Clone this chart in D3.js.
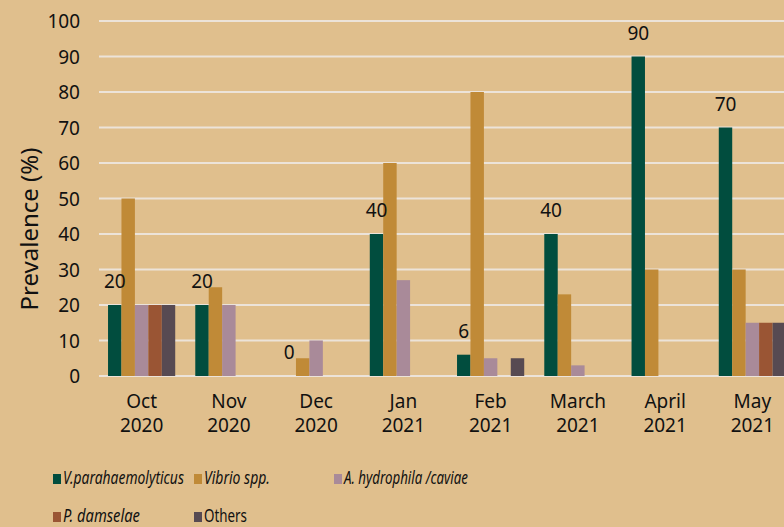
<!DOCTYPE html>
<html>
<head>
<meta charset="utf-8">
<script src="https://cdn.jsdelivr.net/npm/d3@7"></script>
<style>
body{margin:0;background:#e0bf8d;}
text{font-family:"Noto Sans",sans-serif;fill:#111;}
</style>
</head>
<body>
<div id="chart"></div>
<script>
// data
var months=["Oct|2020","Nov|2020","Dec|2020","Jan|2021","Feb|2021","March|2021","April|2021","May|2021"];
var seriesNames=["V.parahaemolyticus","Vibrio spp.","A. hydrophila /caviae","P. damselae","Others"];
var colors=["#014d3e","#c08a37","#a98a99","#9a5534","#574a52"];
var vPara=[20,20,0,40,6,40,90,70];
var vibrio=[50,25,5,60,80,23,30,30];
var hydro=[20,20,10,27,5,3,0,15];
var damselae=[20,0,0,0,0,0,0,15];
var others=[20,0,0,0,5,0,0,15];
var yTicks=[0,10,20,30,40,50,60,70,80,90,100];

var allSeries=[vPara,vibrio,hydro,damselae,others];
var W=784,H=527;

var svg=d3.select("#chart").append("svg")
	.attr("width",W)
	.attr("height",H);

svg.append("rect").attr("width",W).attr("height",H).attr("fill","#e0bf8d");

var y=d3.scaleLinear().domain([0,100]).range([376,21]);
var x0=d3.scaleBand().domain(months).range([98,796]).paddingInner(0.23).paddingOuter(0.115);
var x1=d3.scaleBand().domain(d3.range(5)).range([0,x0.bandwidth()]);

// gridlines
svg.append("g").selectAll("line")
	.data(yTicks)
	.enter()
	.append("line")
	.attr("x1",99)
	.attr("x2",W)
	.attr("y1",function(d){return y(d);})
	.attr("y2",function(d){return y(d);})
	.attr("stroke","#ece3d9")
	.attr("stroke-width",2);

// y axis labels
var yAxis=d3.axisLeft(y).tickValues(yTicks).tickSize(0).tickPadding(0);
var yg=svg.append("g").attr("transform","translate(80,0)").call(yAxis);
yg.select(".domain").remove();
yg.selectAll("text").style("font-size","19px").style("font-family","'Noto Sans',sans-serif").attr("fill","#111").attr("dy","0.35em");

svg.append("text")
	.attr("transform","translate(38,229) rotate(-90)")
	.attr("text-anchor","middle")
	.style("font-size","24px")
	.text("Prevalence (%)");

// bars
var groups=svg.append("g").selectAll("g")
	.data(months)
	.enter()
	.append("g")
	.attr("transform",function(d){return "translate("+x0(d)+",0)";});

groups.selectAll("rect")
	.data(function(d,i){return allSeries.map(function(s,j){return {k:j,v:s[i]};});})
	.enter()
	.append("rect")
	.attr("x",function(d){return x1(d.k);})
	.attr("width",x1.bandwidth())
	.attr("y",function(d){return y(d.v);})
	.attr("height",function(d){return y(0)-y(d.v);})
	.attr("fill",function(d){return colors[d.k];});

// value labels on first series
groups.append("text")
	.attr("x",function(d,i){return x1(0)+x1.bandwidth()/2;})
	.attr("y",function(d,i){return y(vPara[i])-17;})
	.attr("text-anchor","middle")
	.style("font-size","19px")
	.text(function(d,i){return vPara[i];});

// x labels
var xl=svg.append("g").selectAll("text")
	.data(months)
	.enter()
	.append("text")
	.attr("x",function(d){return x0(d)+x0.bandwidth()/2;})
	.attr("text-anchor","middle")
	.style("font-size","19px");
xl.append("tspan").attr("y",408).attr("x",function(d){return x0(d)+x0.bandwidth()/2;}).text(function(d){return d.split("|")[0];});
xl.append("tspan").attr("y",432).attr("x",function(d){return x0(d)+x0.bandwidth()/2;}).text(function(d){return d.split("|")[1];});

// legend
var legendPos=[[53,484],[194,484],[334,484],[53,522],[194,522]];
var legendLen=[121,66,124,77,43];
var legend=svg.append("g").selectAll("g")
	.data(seriesNames)
	.enter()
	.append("g")
	.attr("transform",function(d,i){return "translate("+legendPos[i][0]+","+legendPos[i][1]+")";});
legend.append("rect")
	.attr("x",0)
	.attr("y",-10)
	.attr("width",8)
	.attr("height",10)
	.attr("fill",function(d,i){return colors[i];});
legend.append("text")
	.attr("x",0)
	.attr("y",0)
	.style("font-size","19px")
	.style("font-style",function(d,i){return i==4?"normal":"italic";})
	.text(function(d){return d;})
	.attr("transform",function(d,i){
		var w=this.getComputedTextLength();
		return "translate(10,0) scale("+(legendLen[i]/w)+",1)";
	});
</script>
</body>
</html>
